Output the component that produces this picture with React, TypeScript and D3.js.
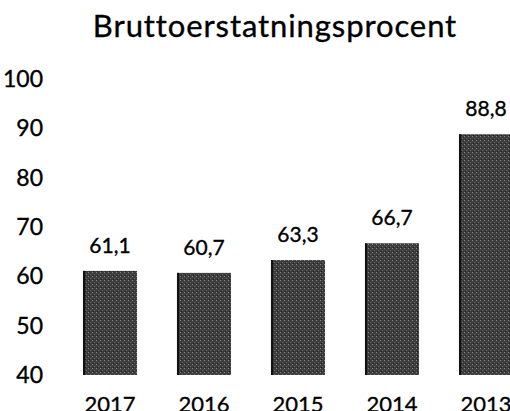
import React, { useRef, useEffect } from 'react';
import * as d3 from 'd3';

const years = ['2017', '2016', '2015', '2014', '2013'];
const values = [61.1, 60.7, 63.3, 66.7, 88.8];
const yTicks = [40, 50, 60, 70, 80, 90, 100];

const width = 510;
const height = 411;
const font = 'Lato, "Open Sans", sans-serif';

export default function App() {
  const ref = useRef<SVGSVGElement>(null);

  useEffect(() => {
    const svg = d3.select(ref.current);
    svg.selectAll('*').remove();

    const x = d3.scaleBand<string>()
      .domain(years)
      .range([63, 533])
      .paddingInner(0.425)
      .paddingOuter(0.2125);

    const y = d3.scaleLinear()
      .domain([40, 100])
      .range([375, 79]);

    // subtle grain like the scanned bars
    const defs = svg.append('defs');
    const pat = defs.append('pattern')
      .attr('id', 'grain')
      .attr('width', 4)
      .attr('height', 4)
      .attr('patternUnits', 'userSpaceOnUse');
    pat.append('rect').attr('width', 4).attr('height', 4).attr('fill', '#3d3d3d');
    pat.append('rect').attr('x', 0).attr('y', 0).attr('width', 1).attr('height', 1).attr('fill', '#8a8a8a');
    pat.append('rect').attr('x', 2).attr('y', 2).attr('width', 1).attr('height', 1).attr('fill', '#6a6a6a');
    pat.append('rect').attr('x', 1).attr('y', 3).attr('width', 1).attr('height', 1).attr('fill', '#1e1e1e');

    const ink = (sel: any, size: number) => sel
      .attr('font-family', font)
      .attr('font-size', size)
      .attr('fill', '#000')
      .attr('stroke', '#000')
      .attr('stroke-width', 0.35);

    svg.append('text')
      .attr('x', 275)
      .attr('y', 37)
      .attr('text-anchor', 'middle')
      .attr('letter-spacing', 0.9)
      .call(ink, 31)
      .text('Bruttoerstatningsprocent');

    const yAxis = svg.append('g')
      .attr('transform', 'translate(43,0)')
      .call(d3.axisLeft(y).tickValues(yTicks).tickSize(0).tickPadding(0).tickFormat(d3.format('d')));
    yAxis.select('.domain').remove();
    yAxis.selectAll('text').call(ink, 23);

    const xAxis = svg.append('g')
      .attr('transform', 'translate(0,375)')
      .call(d3.axisBottom(x).tickSize(0).tickPadding(21));
    xAxis.select('.domain').remove();
    xAxis.selectAll('text').call(ink, 22);

    const bars = svg.append('g');
    bars.selectAll('rect.bar')
      .data(values)
      .join('rect')
      .attr('class', 'bar')
      .attr('x', (d, i) => x(years[i])!)
      .attr('y', d => y(d))
      .attr('width', x.bandwidth())
      .attr('height', d => y(40) - y(d))
      .attr('fill', 'url(#grain)');
    bars.selectAll('rect.edge')
      .data(values)
      .join('rect')
      .attr('class', 'edge')
      .attr('x', (d, i) => x(years[i])!)
      .attr('y', d => y(d))
      .attr('width', 2)
      .attr('height', d => y(40) - y(d))
      .attr('fill', '#111');

    svg.append('g')
      .selectAll('text')
      .data(values)
      .join('text')
      .attr('x', (d, i) => x(years[i])! + x.bandwidth() / 2)
      .attr('y', d => y(d) - 18)
      .attr('text-anchor', 'middle')
      .call(ink, 21)
      .text(d => d3.format('.1f')(d).replace('.', ','));
  }, []);

  return (
    <svg
      ref={ref}
      width={width}
      height={height}
      style={{ position: 'absolute', left: 0, top: 0, background: '#fff' }}
    />
  );
}
